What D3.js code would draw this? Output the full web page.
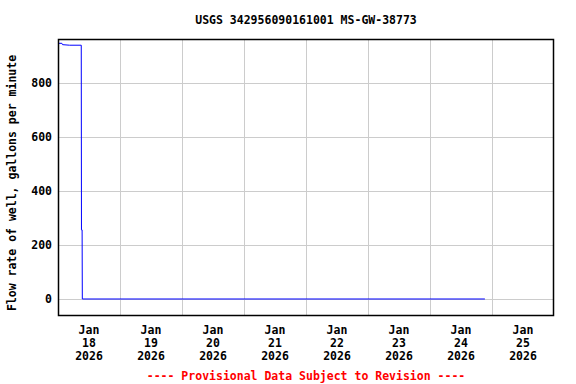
<!DOCTYPE html>
<html>
<head>
<meta charset="utf-8">
<script src="https://cdn.jsdelivr.net/npm/d3@7"></script>
<style>
  body { margin: 0; background: #fff; }
  text { font-family: "DejaVu Sans Mono", monospace; font-weight: bold; }
</style>
</head>
<body>
<svg id="chart" width="576" height="384"></svg>
<script>
// flow readings (times local, gallons per minute)
var flowTimes = [
  "2026-01-18T00:00", "2026-01-18T01:30", "2026-01-18T01:45", "2026-01-18T04:30",
  "2026-01-18T09:00", "2026-01-18T09:05", "2026-01-18T09:20", "2026-01-18T09:25",
  "2026-01-24T21:15"
];
var flowValues = [947, 947, 942, 940, 940, 256, 256, 0, 0];

var yTicks = [0, 200, 400, 600, 800];
var dayTicks = ["2026-01-19", "2026-01-20", "2026-01-21", "2026-01-22", "2026-01-23", "2026-01-24", "2026-01-25"];
var dayLabels = ["2026-01-18", "2026-01-19", "2026-01-20", "2026-01-21", "2026-01-22", "2026-01-23", "2026-01-24", "2026-01-25"];

var titleText = "USGS 342956090161001 MS-GW-38773";
var yLabel = "Flow rate of well, gallons per minute";
var footer = "---- Provisional Data Subject to Revision ----";

var parseTime = d3.timeParse("%Y-%m-%dT%H:%M");
var parseDay = d3.timeParse("%Y-%m-%d");

var margin = { left: 58, right: 22, top: 39, bottom: 68 };
var WIDTH = 576, HEIGHT = 384;
var svg = d3.select("#chart");

var x = d3.scaleTime()
  .domain([parseDay("2026-01-18"), parseDay("2026-01-26")])
  .range([margin.left, WIDTH - margin.right]);

var y = d3.scaleLinear()
  .domain([-63, 963])
  .range([HEIGHT - margin.bottom, margin.top]);

// grid
svg.append("g")
  .selectAll("line")
  .data(dayTicks.map(parseDay))
  .enter()
  .append("line")
  .attr("x1", (d) => Math.round(x(d)) + 0.5)
  .attr("x2", (d) => Math.round(x(d)) + 0.5)
  .attr("y1", margin.top)
  .attr("y2", HEIGHT - margin.bottom)
  .attr("stroke", "#cccccc");

svg.append("g")
  .selectAll("line")
  .data(yTicks)
  .enter()
  .append("line")
  .attr("x1", margin.left)
  .attr("x2", WIDTH - margin.right)
  .attr("y1", (d) => Math.round(y(d)) + 0.5)
  .attr("y2", (d) => Math.round(y(d)) + 0.5)
  .attr("stroke", "#cccccc");

// data line
var data = flowTimes.map((t, i) => ({ t: parseTime(t), v: flowValues[i] }));
svg.append("path")
  .datum(data)
  .attr("fill", "none")
  .attr("stroke", "#0000ff")
  .attr("stroke-width", 1)
  .attr("d", d3.line().x((d) => x(d.t)).y((d) => y(d.v)));

// frame
svg.append("rect")
  .attr("x", margin.left + 0.5)
  .attr("y", margin.top + 0.5)
  .attr("width", WIDTH - margin.left - margin.right - 1)
  .attr("height", HEIGHT - margin.top - margin.bottom - 1)
  .attr("fill", "none")
  .attr("stroke", "black")
  .attr("stroke-width", 1.5);

// y tick labels
svg.append("g")
  .selectAll("text")
  .data(yTicks)
  .enter()
  .append("text")
  .attr("x", 52)
  .attr("y", (d) => y(d) + 4)
  .attr("text-anchor", "end")
  .attr("font-size", "11.5px")
  .text((d) => d);

// x labels at midday
var fmtMon = d3.timeFormat("%b"), fmtDay = d3.timeFormat("%-d"), fmtYr = d3.timeFormat("%Y");
var xl = svg.append("g")
  .selectAll("text")
  .data(dayLabels.map(parseDay))
  .enter()
  .append("text")
  .attr("text-anchor", "middle")
  .attr("font-size", "11.5px");
[fmtMon, fmtDay, fmtYr].forEach((f, i) => {
  xl.append("tspan")
    .attr("x", (d) => x(d3.timeHour.offset(d, 12)))
    .attr("y", 334 + i * 13)
    .text((d) => f(d));
});

// title
svg.append("text")
  .attr("x", (margin.left + WIDTH - margin.right) / 2)
  .attr("y", 24)
  .attr("text-anchor", "middle")
  .attr("font-size", "11.5px")
  .text(titleText);

// y axis label
svg.append("text")
  .attr("transform", "translate(16,183) rotate(-90)")
  .attr("text-anchor", "middle")
  .attr("font-size", "11.5px")
  .text(yLabel);

// footer
svg.append("text")
  .attr("x", (margin.left + WIDTH - margin.right) / 2)
  .attr("y", 380)
  .attr("text-anchor", "middle")
  .attr("font-size", "11.5px")
  .attr("fill", "red")
  .text(footer);
</script>
</body>
</html>
